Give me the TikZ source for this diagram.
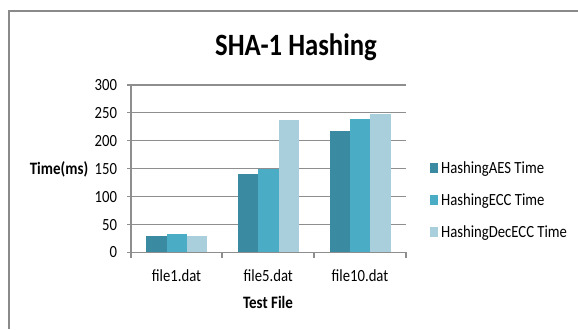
\documentclass[tikz,border=0pt]{standalone}
\usepackage{fontspec}
\setmainfont{Carlito}
\usepackage{graphicx}
\definecolor{caes}{HTML}{3A8AA1}
\definecolor{cecc}{HTML}{4BACC6}
\definecolor{cdec}{HTML}{A9CFDD}
\definecolor{gridc}{HTML}{8E8E8E}
\definecolor{framec}{HTML}{8A8A8A}
\newcommand{\vs}[1]{\scalebox{1}[1.16]{#1}}
\newcommand{\nf}{\fontsize{14.7bp}{17bp}\selectfont}
\newcommand{\bfn}{\fontsize{15bp}{18bp}\selectfont\bfseries}
\begin{document}
\begin{tikzpicture}[x=1bp,y=-1bp,
  lbl/.style={inner sep=0pt,outer sep=0pt,font=\nf},
  blbl/.style={inner sep=0pt,outer sep=0pt,font=\bfn},
  gridline/.style={draw=gridc,line width=1.2bp},
  barAES/.style={fill=caes,draw=none},
  barECC/.style={fill=cecc,draw=none},
  barDEC/.style={fill=cdec,draw=none}]
\useasboundingbox (0,0) rectangle (578,329);
\fill[white] (0,0) rectangle (578,329);
% frame
\coordinate (fb) at (9,329);
\coordinate (ftl) at (9,11);
\coordinate (fr) at (578,11);
\draw[framec,line width=1.5bp] (fb) -- (ftl) -- (fr);
% title
\node[inner sep=0pt,anchor=base,font=\fontsize{26.7bp}{30bp}\selectfont\bfseries] (title) at (296,55) {\vs{SHA-1 Hashing}};
% gridlines and y labels
\foreach \v/\n in {0/g0,50/g50,100/g100,150/g150,200/g200,250/g250,300/g300}{
  \coordinate (\n L) at (127,{252.3-0.5577*\v});
  \coordinate (\n R) at (406,{252.3-0.5577*\v});
  \draw[gridline] (\n L) -- (\n R);
  \node[lbl,anchor=base east] (\n t) at (117,{252.3-0.5577*\v+5.6}) {\vs{\v}};
}
% axes
\coordinate (ya) at (131,85);
\coordinate (yb) at (131,258);
\draw[gridline] (ya) -- (yb);
\foreach \i/\x in {1/222,2/314,3/406}{
  \coordinate (ct\i a) at (\x,252.3);
  \coordinate (ct\i b) at (\x,258);
  \draw[gridline] (ct\i a) -- (ct\i b);
}
% bars
\def\bw{20.35}
\foreach \i/\a/\e/\d in {0/30/32.4/30, 1/139.9/149.4/237.3, 2/217/239/247.5}{
  \pgfmathsetmacro{\xs}{131+91.67*\i+15.3}
  \fill[barAES] (\xs,252.3) rectangle ({\xs+\bw},{252.3-0.5577*\a});
  \fill[barECC] ({\xs+\bw},252.3) rectangle ({\xs+2*\bw},{252.3-0.5577*\e});
  \fill[barDEC] ({\xs+2*\bw},252.3) rectangle ({\xs+3*\bw},{252.3-0.5577*\d});
}
% category labels
\node[lbl,anchor=base] (c1) at (176.5,281) {\vs{file1.dat}};
\node[lbl,anchor=base] (c2) at (268.3,281) {\vs{file5.dat}};
\node[lbl,anchor=base] (c3) at (360,281) {\vs{file10.dat}};
\node[blbl,anchor=base] (xt) at (268,308) {\vs{Test File}};
\node[blbl,anchor=base] (yt) at (59,174.5) {\vs{Time(ms)}};
% legend
\fill[caes] (430,162.7) rectangle (437.5,172.7);
\fill[cecc] (430,194.9) rectangle (437.5,204.9);
\fill[cdec] (430,227.1) rectangle (437.5,237.1);
\node[lbl,anchor=base west] (l1) at (441.2,173.2) {\vs{HashingAES Time}};
\node[lbl,anchor=base west] (l2) at (441.2,205.3) {\vs{HashingECC Time}};
\node[lbl,anchor=base west] (l3) at (441.2,237.5) {\vs{HashingDecECC Time}};
\end{tikzpicture}
\end{document}
